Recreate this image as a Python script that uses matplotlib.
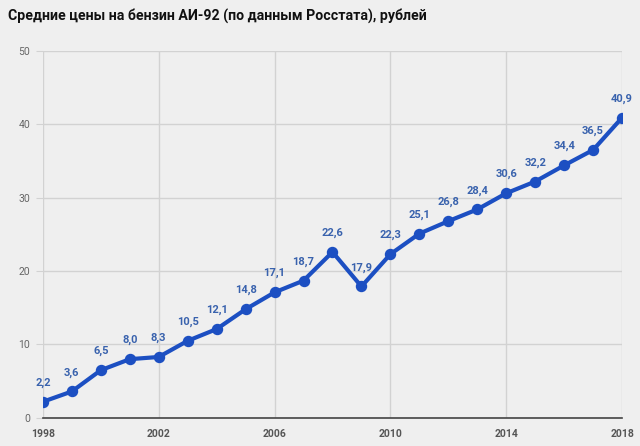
import matplotlib
matplotlib.use("Agg")
import matplotlib.pyplot as plt

# ---------------- Data ----------------
years = [1998, 1999, 2000, 2001, 2002, 2003, 2004, 2005, 2006, 2007, 2008,
         2009, 2010, 2011, 2012, 2013, 2014, 2015, 2016, 2017, 2018]
prices = [2.2, 3.6, 6.5, 8.0, 8.3, 10.5, 12.1, 14.8, 17.1, 18.7, 22.6,
          17.9, 22.3, 25.1, 26.8, 28.4, 30.6, 32.2, 34.4, 36.5, 40.9]
x_ticks = [1998, 2002, 2006, 2010, 2014, 2018]
y_ticks = [0, 10, 20, 30, 40, 50]
title = "Средние цены на бензин АИ-92 (по данным Росстата), рублей"

bg = "#efefef"
line_color = "#1c4fc2"
label_color = "#3962ad"

plt.rcParams['font.family'] = ['Roboto', 'DejaVu Sans']

fig = plt.figure(figsize=(6.4, 4.46), dpi=100, facecolor=bg)
ax = fig.add_axes([0.067, 0.063, 0.905, 0.823], facecolor=bg)

ax.plot(years, prices, color=line_color, lw=3, marker='o', ms=7.2, zorder=3)

# value labels above points
for x, y in zip(years, prices):
    ax.annotate(f"{y:.1f}".replace('.', ','), (x, y), xytext=(0, 10),
                textcoords='offset points', ha='center', va='bottom',
                fontsize=8, fontweight='bold', color=label_color)

ax.set_xlim(1998, 2018)
ax.set_ylim(0, 50)
ax.set_xticks(x_ticks)
ax.set_yticks(y_ticks)
ax.grid(True, color='#d2d2d2', lw=1)
ax.set_axisbelow(True)
for s in ['top', 'right', 'left']:
    ax.spines[s].set_visible(False)
ax.spines['bottom'].set_color('#444444')
ax.spines['bottom'].set_linewidth(1.2)
ax.tick_params(axis='y', length=5, color='#d2d2d2', labelsize=7.5,
               labelcolor='#666666', pad=4)
ax.tick_params(axis='x', length=0, labelsize=7.5, labelcolor='#555555', pad=8)
for lbl in ax.get_xticklabels():
    lbl.set_fontweight('bold')

fig.text(0.013, 0.962, title, fontsize=10.2, fontweight='bold',
         color='#111111', ha='left', va='center')

fig.savefig("out.png", dpi=100, facecolor=bg)
